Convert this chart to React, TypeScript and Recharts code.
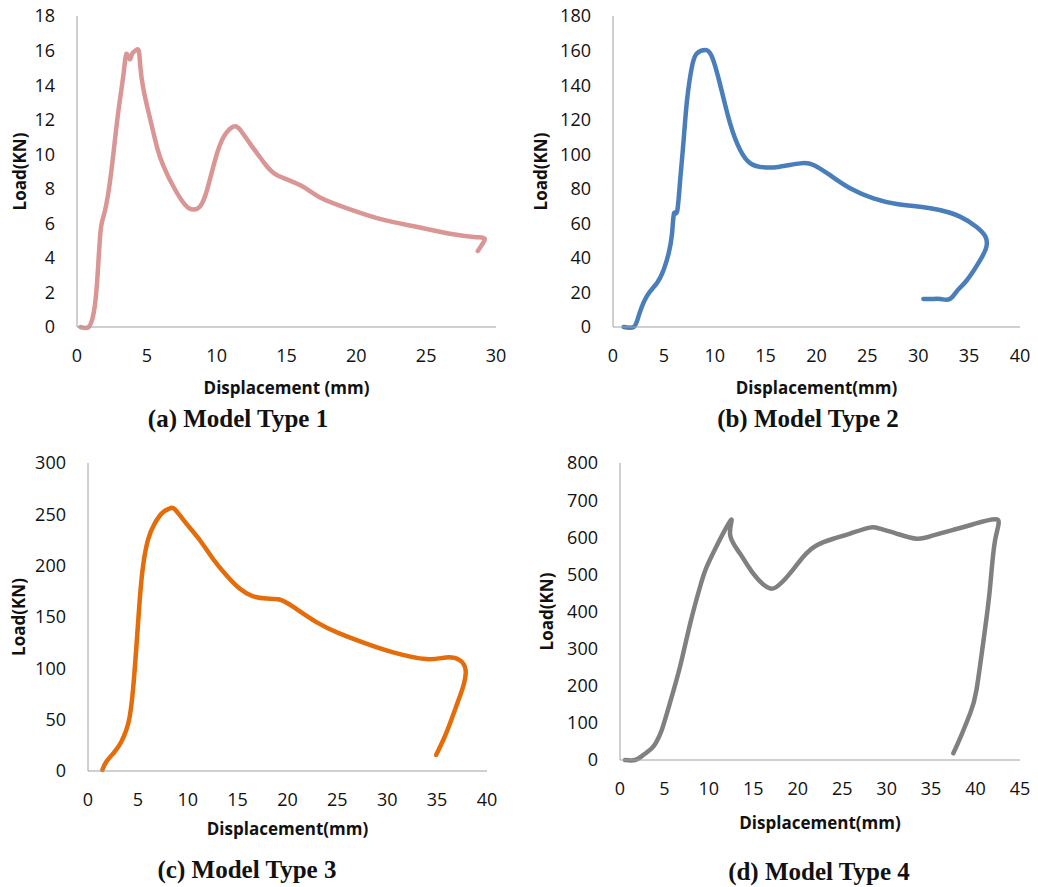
import { LineChart, Line, XAxis, YAxis } from "recharts";

// Model Type 1 (displacement mm, load kN)
const type1X = [0.24, 0.84, 1.19, 1.43, 1.67, 1.9, 2.27, 2.63, 2.98, 3.34, 3.53, 3.77, 3.94, 4.18, 4.42, 4.53, 4.77, 5.25, 5.73, 6.2, 6.92, 7.75, 8.35, 8.83, 9.3, 9.9, 10.5, 11.2, 11.7, 12.4, 13.4, 14.3, 16.0, 17.4, 19.6, 21.96, 24.3, 26.7, 28.6, 29.2, 28.98, 28.7];
const type1Y = [0, 0, 0.8, 2.5, 5.4, 6.4, 7.9, 10.2, 12.6, 14.7, 15.8, 15.5, 15.8, 16.0, 16.0, 15.1, 13.7, 12.0, 10.4, 9.3, 8.1, 7.06, 6.8, 7.0, 7.9, 9.7, 11.0, 11.6, 11.4, 10.6, 9.5, 8.8, 8.2, 7.5, 6.8, 6.2, 5.8, 5.4, 5.2, 5.1, 4.75, 4.4];

// Model Type 2
const type2X = [1.05, 2.03, 2.5, 3.3, 4.3, 4.97, 5.47, 5.8, 6.0, 6.3, 6.6, 6.94, 7.27, 7.76, 8.25, 9.07, 9.72, 10.5, 11.5, 12.5, 13.5, 14.8, 16.4, 18.4, 19.7, 21.3, 23.3, 25.6, 27.9, 30.2, 32.1, 34.1, 35.7, 36.6, 36.7, 36.1, 34.8, 33.9, 33.1, 32.2, 31.3, 30.5];
const type2Y = [0, 0, 6, 17.6, 25.3, 33, 42.6, 54, 65.8, 66.8, 85, 108, 131, 150.7, 158.4, 160.3, 156.5, 141, 118, 102.4, 94.7, 92.4, 92.8, 94.7, 93.8, 88, 80.3, 74.5, 71.2, 69.6, 67.7, 63.9, 58, 52.3, 46.5, 38.8, 27.2, 21.5, 16.2, 16.2, 16.2, 16.2];

// Model Type 3
const type3X = [1.44, 1.84, 2.67, 3.34, 3.84, 4.18, 4.51, 4.85, 5.18, 5.51, 6.01, 6.68, 7.52, 8.19, 8.69, 9.86, 11.2, 12.5, 13.87, 15.2, 16.5, 17.9, 19.2, 20.55, 22.9, 25.2, 27.9, 30.6, 33.9, 35.9, 37.26, 37.86, 37.6, 36.9, 35.9, 34.9];
const type3Y = [1, 9, 18.8, 28.5, 40, 53, 79, 121, 166, 199, 225, 241, 252, 255.6, 255, 241, 225, 207, 190.7, 177.7, 170.3, 168, 167, 160, 145, 134, 124, 115.5, 109, 110.6, 108, 98, 82, 62.6, 36.6, 15.6];

// Model Type 4
const type4X = [0.56, 1.69, 2.6, 3.56, 4.1, 4.7, 5.6, 6.75, 7.9, 9.0, 9.75, 10.9, 12.0, 12.56, 12.4, 13.5, 15.0, 16.5, 17.6, 19.1, 20.6, 22.1, 24.0, 25.9, 28.1, 29.25, 31.1, 33.4, 35.25, 37.5, 39.75, 42.4, 42.2, 41.6, 40.9, 40.1, 39.4, 38.25, 37.5];
const type4Y = [0, 0, 13, 31, 49, 81, 152, 251, 368, 466, 520, 578, 628, 646, 605, 556, 502, 466, 466, 502, 547, 578, 596, 610, 626, 623, 610, 596, 605, 620, 635, 648, 592, 457, 323, 188, 126, 58, 18];

const ticks1X = [0, 5, 10, 15, 20, 25, 30];
const ticks1Y = [0, 2, 4, 6, 8, 10, 12, 14, 16, 18];
const ticks2X = [0, 5, 10, 15, 20, 25, 30, 35, 40];
const ticks2Y = [0, 20, 40, 60, 80, 100, 120, 140, 160, 180];
const ticks3X = [0, 5, 10, 15, 20, 25, 30, 35, 40];
const ticks3Y = [0, 50, 100, 150, 200, 250, 300];
const ticks4X = [0, 5, 10, 15, 20, 25, 30, 35, 40, 45];
const ticks4Y = [0, 100, 200, 300, 400, 500, 600, 700, 800];

const toPoints = (xs: number[], ys: number[]) => xs.map((x, i) => ({ x, y: ys[i] }));

const AXIS = "#a0a0a0";
const tickStyle = { fontFamily: "'Open Sans', sans-serif", fontSize: 18, fill: "#111" };
const titleStyle = { fontFamily: "'Open Sans', sans-serif", fontSize: 17, fontWeight: 700, fill: "#111" };

interface PanelProps {
  left: number;
  top: number;
  width: number;
  height: number;
  margin: { top: number; right: number; left: number; bottom: number };
  yWidth: number;
  xHeight: number;
  xTitle: string;
  xTitleOffset: number;
  yTitleOffset: number;
  xTicks: number[];
  yTicks: number[];
  data: { x: number; y: number }[];
  color: string;
  caption: string;
  captionX: number;
  captionY: number;
}

function Panel(p: PanelProps) {
  const xMax = p.xTicks[p.xTicks.length - 1];
  const yMax = p.yTicks[p.yTicks.length - 1];
  return (
    <>
      <div style={{ position: "absolute", left: p.left, top: p.top }}>
        <LineChart width={p.width} height={p.height} data={p.data} margin={p.margin}>
          <XAxis
            dataKey="x"
            type="number"
            domain={[0, xMax]}
            ticks={p.xTicks}
            height={p.xHeight}
            stroke={AXIS}
            tickLine={false}
            tickSize={0}
            tickMargin={22}
            tick={tickStyle}
            label={{ value: p.xTitle, position: "insideBottom", offset: p.xTitleOffset, style: titleStyle }}
          />
          <YAxis
            dataKey="y"
            type="number"
            domain={[0, yMax]}
            ticks={p.yTicks}
            width={p.yWidth}
            stroke={AXIS}
            tickLine={false}
            tickSize={0}
            tickMargin={22}
            tick={tickStyle}
            label={{
              value: "Load(KN)",
              angle: -90,
              position: "insideLeft",
              offset: p.yTitleOffset,
              style: { ...titleStyle, textAnchor: "middle" },
            }}
          />
          <Line
            dataKey="y"
            type="natural"
            stroke={p.color}
            strokeWidth={4.5}
            strokeLinejoin="round"
            strokeLinecap="round"
            dot={false}
            isAnimationActive={false}
          />
        </LineChart>
      </div>
      <div
        style={{
          position: "absolute",
          left: p.captionX,
          top: p.captionY,
          transform: "translate(-50%, -50%)",
          fontFamily: "'Liberation Serif', 'Times New Roman', serif",
          fontWeight: 700,
          fontSize: 25,
          whiteSpace: "nowrap",
          color: "#111",
        }}
      >
        {p.caption}
      </div>
    </>
  );
}

export default function App() {
  return (
    <div style={{ position: "absolute", left: 0, top: 0, width: 1038, height: 887, background: "#fff" }}>
      <Panel
        left={0}
        top={0}
        width={520}
        height={440}
        margin={{ top: 16, right: 24, left: 0, bottom: 0 }}
        yWidth={77}
        xHeight={113}
        xTitle="Displacement (mm)"
        xTitleOffset={46}
        yTitleOffset={20}
        xTicks={ticks1X}
        yTicks={ticks1Y}
        data={toPoints(type1X, type1Y)}
        color="#d99694"
        caption="(a) Model Type 1"
        captionX={238}
        captionY={419}
      />
      <Panel
        left={520}
        top={0}
        width={518}
        height={440}
        margin={{ top: 16, right: 18, left: 0, bottom: 0 }}
        yWidth={93}
        xHeight={113}
        xTitle="Displacement(mm)"
        xTitleOffset={46}
        yTitleOffset={21}
        xTicks={ticks2X}
        yTicks={ticks2Y}
        data={toPoints(type2X, type2Y)}
        color="#4a7ebb"
        caption="(b) Model Type 2"
        captionX={808}
        captionY={419}
      />
      <Panel
        left={0}
        top={440}
        width={520}
        height={447}
        margin={{ top: 23, right: 33, left: 0, bottom: 0 }}
        yWidth={88}
        xHeight={116}
        xTitle="Displacement(mm)"
        xTitleOffset={52}
        yTitleOffset={19}
        xTicks={ticks3X}
        yTicks={ticks3Y}
        data={toPoints(type3X, type3Y)}
        color="#e46c0a"
        caption="(c) Model Type 3"
        captionX={247}
        captionY={870}
      />
      <Panel
        left={520}
        top={440}
        width={518}
        height={447}
        margin={{ top: 23, right: 18, left: 0, bottom: 0 }}
        yWidth={100}
        xHeight={127}
        xTitle="Displacement(mm)"
        xTitleOffset={58}
        yTitleOffset={27}
        xTicks={ticks4X}
        yTicks={ticks4Y}
        data={toPoints(type4X, type4Y)}
        color="#808080"
        caption="(d) Model Type 4"
        captionX={819}
        captionY={872}
      />
    </div>
  );
}
